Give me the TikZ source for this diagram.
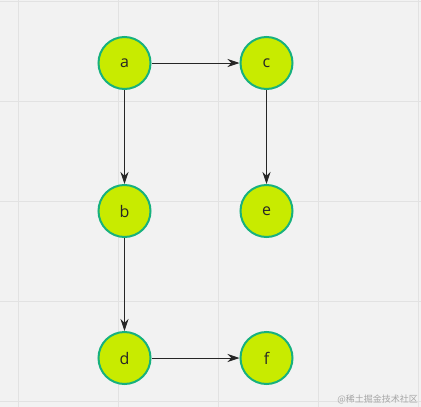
\documentclass[tikz,border=0pt]{standalone}
\usepackage{fontspec}
\setmainfont{Open Sans}
\newfontfamily\cjk{Noto Sans CJK SC}
\usetikzlibrary{arrows.meta}
\definecolor{bg}{HTML}{F2F2F2}
\definecolor{gridc}{HTML}{E2E2E2}
\definecolor{nodefill}{HTML}{C8EB00}
\definecolor{nodeborder}{HTML}{17B17E}
\tikzset{
  vertex/.style={circle, draw=nodeborder, fill=nodefill, line width=2pt, minimum size=52pt, inner sep=0pt, font=\fontsize{16}{16}\selectfont, text=black!85},
  link/.style={draw=black!85, line width=1pt, -{Stealth[length=12pt,width=8pt]}}
}
\begin{document}
\begin{tikzpicture}[x=1pt,y=-1pt]
\useasboundingbox (0,0) rectangle (421,407);
\fill[bg] (0,0) rectangle (421,407);
\foreach \x in {18,118,218,318,418} \draw[gridc, line width=0.8pt] (\x,0) -- (\x,407);
\foreach \y in {1,101,201,301,401} \draw[gridc, line width=0.8pt] (0,\y) -- (421,\y);
\node[vertex] (a) at (124.5,63) {a};
\node[vertex] (c) at (266.5,63) {c};
\node[vertex] (b) at (124.5,211) {b};
\node[vertex] (e) at (266.5,211) {e};
\node[vertex] (d) at (124.5,358) {d};
\node[vertex] (f) at (266.5,358) {f};
\draw[link] (a) -- (c);
\draw[link] (a) -- (b);
\draw[link] (c) -- (e);
\draw[link] (b) -- (d);
\draw[link] (d) -- (f);
\node[anchor=east, text=black!35, font=\cjk\fontsize{9}{9}\selectfont, inner sep=0pt] (wm) at (418,399) {@稀土掘金技术社区};
\end{tikzpicture}
\end{document}
